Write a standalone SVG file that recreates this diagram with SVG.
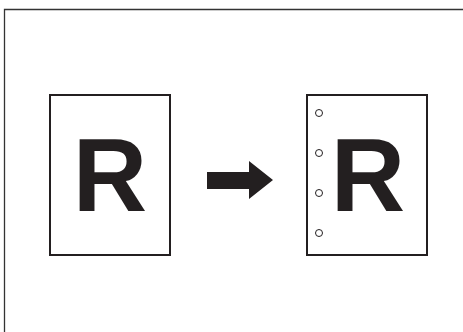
<svg xmlns="http://www.w3.org/2000/svg" width="463" height="332" viewBox="0 0 463 332">
<style>
.frame{fill:none;stroke:#333;stroke-width:1.3}
.page{fill:#fff;stroke:#231f20;stroke-width:2}
.big{font-family:"Liberation Sans",Arial,sans-serif;font-weight:bold;font-size:103px;fill:#231f20}
.hole{fill:#fff;stroke:#231f20;stroke-width:1}
</style>
<rect width="463" height="332" fill="#fff"/>
<path class="frame" d="M4.5,332 V9.5 H463"/>
<g id="original">
<rect class="page" x="50" y="95" width="120" height="160"/>
<text class="big" x="110" y="211" text-anchor="middle">R</text>
</g>
<g id="connectors">
<polygon points="207,172 249,172 249,161 273,180 249,199 249,189 207,189" fill="#231f20"/>
</g>
<g id="punched">
<rect class="page" x="307" y="95" width="120" height="160"/>
<text class="big" x="368" y="211" text-anchor="middle">R</text>
<circle class="hole" cx="319" cy="113" r="3.5"/>
<circle class="hole" cx="319" cy="153" r="3.5"/>
<circle class="hole" cx="319" cy="193" r="3.5"/>
<circle class="hole" cx="319" cy="233" r="3.5"/>
</g>
</svg>
